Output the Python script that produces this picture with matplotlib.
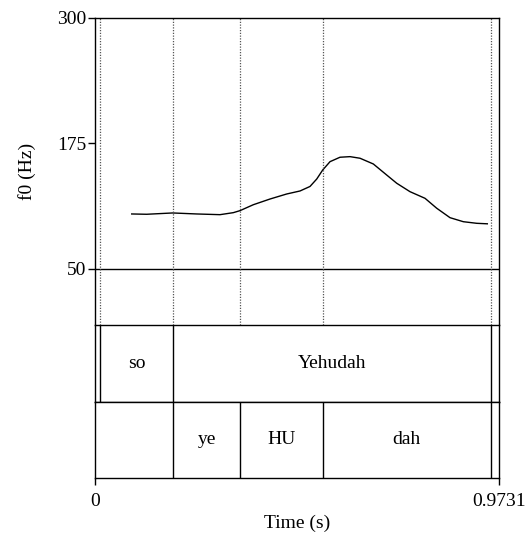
import matplotlib.pyplot as plt

plt.rcParams["font.family"] = ["Liberation Serif", "DejaVu Serif"]

# pitch contour (time in s, f0 in Hz)
pitch_time = [0.0891, 0.1252, 0.1877, 0.2455, 0.3016, 0.3336, 0.3497, 0.3817,
              0.4220, 0.4621, 0.4942, 0.5182, 0.5344, 0.5488, 0.5664, 0.5904,
              0.6145, 0.6386, 0.6706, 0.7028, 0.7269, 0.7589, 0.7950, 0.8232,
              0.8552, 0.8872, 0.9195, 0.9450]
pitch_hz = [104.8, 104.5, 105.8, 104.8, 104.1, 106.1, 108.1, 114.0,
            119.7, 124.7, 127.7, 132.2, 139.6, 148.6, 156.9, 161.3,
            161.9, 160.3, 154.6, 143.6, 135.4, 127.0, 120.4, 110.5,
            101.1, 97.1, 95.5, 95.0]

duration = 0.9731

# tier 1 (words)
tier1_bounds = [0.0135, 0.1877, 0.9539]
tier1_labels = ["", "so", "Yehudah", ""]

# tier 2 (syllables)
tier2_bounds = [0.1877, 0.3505, 0.5488, 0.9539]
tier2_labels = ["", "ye", "HU", "dah", ""]

y_ticks = [50, 175, 300]

W, H = 527, 535
FS = 14
fig = plt.figure(figsize=(W / 100, H / 100), dpi=100)


def frac_box(x0, y0, x1, y1):
    return [x0 / W, 1 - y1 / H, (x1 - x0) / W, (y1 - y0) / H]


left, right = 94.7, 499.0
ax = fig.add_axes(frac_box(left, 18, right, 325))
ax1 = fig.add_axes(frac_box(left, 325, right, 402))
ax2 = fig.add_axes(frac_box(left, 402, right, 478))

lw = 1.0

# pitch panel
ax.plot(pitch_time, pitch_hz, color="black", linewidth=1.0)
ax.axhline(50, color="black", linewidth=lw)
for b in sorted(set(tier1_bounds + tier2_bounds)):
    ax.axvline(b, color="#555555", linestyle=(0, (1, 1.2)), linewidth=0.9)
ax.set_xlim(0, duration)
ax.set_ylim(-5.8, 300)
ax.set_yticks(y_ticks)
ax.set_yticklabels([str(v) for v in y_ticks], fontsize=FS)
ax.set_xticks([])
ax.tick_params(axis="y", direction="out", length=5, width=lw, pad=1)
ax.set_ylabel("f0 (Hz)", fontsize=FS, labelpad=15)
for s in ax.spines.values():
    s.set_linewidth(lw)
ax.spines["bottom"].set_visible(False)


def draw_tier(a, bounds, labels):
    a.set_xlim(0, duration)
    a.set_ylim(0, 1)
    a.set_yticks([])
    edges = [0] + bounds + [duration]
    for b in bounds:
        a.axvline(b, color="black", linewidth=lw)
    for i, lab in enumerate(labels):
        if lab:
            a.text((edges[i] + edges[i + 1]) / 2, 0.5, lab,
                   ha="center", va="center", fontsize=FS)
    for s in a.spines.values():
        s.set_linewidth(lw)


draw_tier(ax1, tier1_bounds, tier1_labels)
ax1.set_xticks([])
draw_tier(ax2, tier2_bounds, tier2_labels)
ax2.set_xticks([0, duration])
ax2.set_xticklabels(["0", "0.9731"], fontsize=FS)
ax2.tick_params(axis="x", direction="out", length=5, width=lw, pad=6)
ax2.set_xlabel("Time (s)", fontsize=FS, labelpad=3)

fig.savefig("out.png", dpi=100)
